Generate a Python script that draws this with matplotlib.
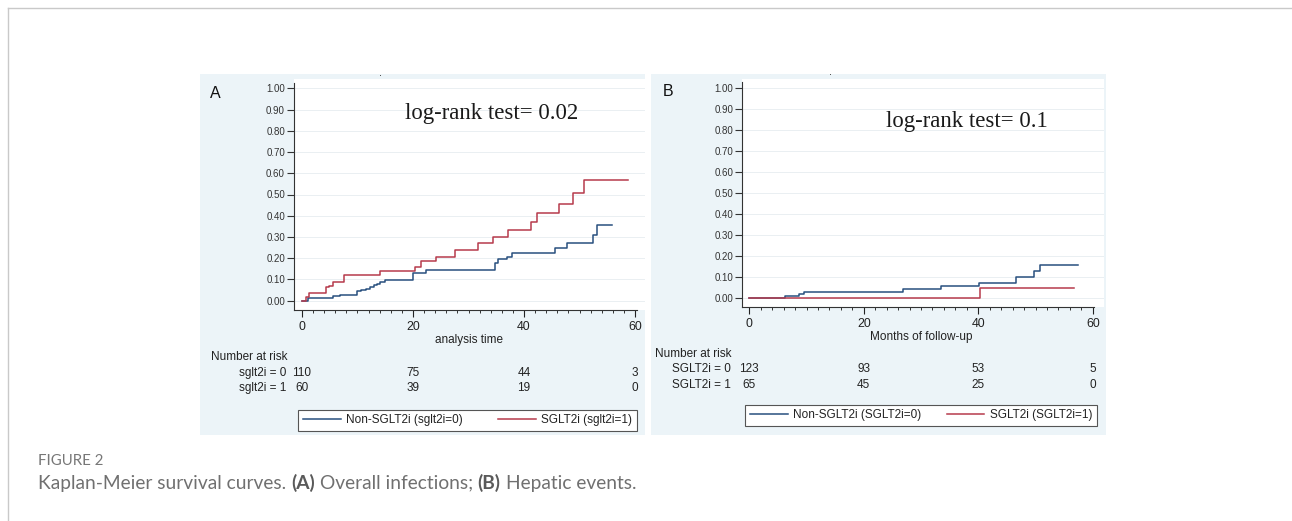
import numpy as np
import matplotlib
matplotlib.use("Agg")
import matplotlib.pyplot as plt
from matplotlib import font_manager
from matplotlib.patches import Rectangle
from matplotlib.lines import Line2D
from matplotlib.transforms import blended_transform_factory

# ---- data ----
# Panel A: overall infections (cumulative incidence, step curves)
a_non_t = [0, 1.0, 5.5, 6.8, 10.0, 10.6, 11.6, 12.2, 12.9, 13.5, 14.0, 14.9,
           20.0, 22.4, 34.7, 35.4, 36.9, 37.8, 45.6, 47.8, 52.5, 53.1, 55.9]
a_non_v = [0, 0.010, 0.019, 0.027, 0.043, 0.048, 0.055, 0.063, 0.071, 0.079, 0.087, 0.097,
           0.130, 0.144, 0.175, 0.194, 0.207, 0.226, 0.246, 0.273, 0.309, 0.357, 0.357]
a_sglt_t = [0, 0.8, 1.3, 4.3, 4.9, 5.5, 7.6, 14.0, 20.3, 21.5, 24.2, 27.5,
            31.7, 34.4, 37.2, 41.2, 42.3, 46.3, 48.8, 50.8, 58.8]
a_sglt_v = [0, 0.017, 0.034, 0.063, 0.070, 0.087, 0.120, 0.137, 0.160, 0.185, 0.207, 0.238,
            0.270, 0.298, 0.333, 0.372, 0.411, 0.455, 0.509, 0.568, 0.568]

# Panel B: hepatic events
b_non_t = [0, 6.3, 8.6, 9.6, 26.9, 33.5, 40.2, 46.6, 49.7, 50.8, 57.5]
b_non_v = [0, 0.008, 0.016, 0.027, 0.040, 0.056, 0.072, 0.097, 0.128, 0.157, 0.157]
b_sglt_t = [0, 40.3, 56.8]
b_sglt_v = [0, 0.045, 0.045]

risk_times = [0, 20, 40, 60]
a_risk_non = [110, 75, 44, 3]
a_risk_sglt = [60, 39, 19, 0]
b_risk_non = [123, 93, 53, 5]
b_risk_sglt = [65, 45, 25, 0]

y_ticks = np.round(np.arange(0, 1.01, 0.1), 2)
x_ticks = [0, 20, 40, 60]
x_minor = np.arange(0, 61, 2)

BLUE = "#28507f"
RED = "#b63a4c"
PANEL_BG = "#ecf4f8"

names = {f.name for f in font_manager.fontManager.ttflist}
if "Liberation Sans Narrow" in names:
    NARROW, k = "Liberation Sans Narrow", 1.0
else:
    NARROW, k = "Liberation Sans", 0.85

W, H = 1292, 521
fig = plt.figure(figsize=(W / 100, H / 100), dpi=100)
fig.patch.set_facecolor("white")


def fx(px):
    return px / W


def fy(py):
    return 1 - py / H


# page frame lines
fig.add_artist(Line2D([fx(8), 1], [fy(8), fy(8)], color="#c9c9c9", lw=1))
fig.add_artist(Line2D([fx(8), fx(8)], [fy(8), 0], color="#c9c9c9", lw=1))


def draw_panel(box, plot, xlim, ylim, curves, letter, letter_xy, test_txt, test_xy,
               xlabel, xlabel_y, risk_rows, risk_xy, legend_box, leg_labels):
    # grey-blue graph region
    x0, y0, x1, y1 = box
    fig.add_artist(Rectangle((fx(x0), fy(y1)), fx(x1) - fx(x0), (y1 - y0) / H,
                             transform=fig.transFigure, facecolor=PANEL_BG,
                             edgecolor="none", zorder=0))
    l, t, r, b = plot
    ax = fig.add_axes([fx(l), fy(b), fx(r) - fx(l), (b - t) / H])
    ax.set_facecolor("white")
    ax.set_xlim(*xlim)
    ax.set_ylim(*ylim)

    lines = []
    for (tt, vv, col) in curves:
        ln, = ax.step(tt, vv, where="post", color=col, lw=1.1, zorder=3)
        lines.append(ln)

    ax.set_yticks(y_ticks)
    ax.set_yticklabels([f"{v:.2f}" for v in y_ticks])
    ax.set_xticks(x_ticks)
    ax.set_xticks(x_minor, minor=True)
    ax.grid(axis="y", color="#eaeff2", lw=0.7)
    ax.set_axisbelow(True)
    for s in ("top", "right"):
        ax.spines[s].set_visible(False)
    for s in ("left", "bottom"):
        ax.spines[s].set_color("#333333")
        ax.spines[s].set_linewidth(0.8)
    ax.spines["left"].set_bounds(ylim[0], 1.025)
    ax.spines["bottom"].set_bounds(xlim[0], 60.3)
    ax.tick_params(axis="y", length=5, width=0.8, pad=1.5, labelsize=7,
                   colors="#333333", labelfontfamily="Liberation Sans")
    ax.tick_params(axis="x", which="major", length=5, width=0.8, pad=3,
                   labelsize=10.5 * k, colors="#222222", labelfontfamily=NARROW)
    ax.tick_params(axis="x", which="minor", length=2.5, width=0.7, colors="#333333")

    fig.text(fx(letter_xy[0]), fy(letter_xy[1]), letter, fontsize=11.5,
             family="Liberation Sans", ha="center", va="center", color="#111111")
    fig.text(fx(test_xy[0]), fy(test_xy[1]), test_txt, fontsize=16.4,
             family="Liberation Serif", ha="center", va="center", color="#1a1a1a")

    trans = blended_transform_factory(ax.transData, fig.transFigure)
    ax.text(30, fy(xlabel_y), xlabel, transform=trans, ha="center", va="center",
            fontsize=10 * k, family=NARROW, color="#222222")

    rx, ry = risk_xy
    fig.text(fx(rx), fy(ry), "Number at risk", ha="left", va="center",
             fontsize=10 * k, family=NARROW, color="#222222")
    for (lbl_x, lbl_y, lbl, vals) in risk_rows:
        fig.text(fx(lbl_x), fy(lbl_y), lbl, ha="right", va="center",
                 fontsize=10 * k, family=NARROW, color="#222222")
        for tm, n in zip(risk_times, vals):
            ax.text(tm, fy(lbl_y), str(n), transform=trans, ha="center", va="center",
                    fontsize=10 * k, family=NARROW, color="#222222")

    lx0, ly0, lx1, ly1 = legend_box
    leg = fig.legend(handles=lines, labels=leg_labels, loc="lower left",
                     bbox_to_anchor=(fx(lx0), fy(ly1), fx(lx1) - fx(lx0), (ly1 - ly0) / H),
                     bbox_transform=fig.transFigure, mode="expand", ncol=2,
                     frameon=True, fancybox=False, edgecolor="#555555",
                     facecolor="white", framealpha=1, borderaxespad=0,
                     handlelength=3.2, handletextpad=0.45, borderpad=0.4,
                     prop={"family": NARROW, "size": 10 * k})
    leg.get_frame().set_linewidth(0.8)
    for txt in leg.get_texts():
        txt.set_color("#222222")
    return ax


draw_panel(box=(200, 74, 645, 435), plot=(294, 79, 645, 310),
           xlim=(-1.44, 61.8), ylim=(-0.0448, 1.0448),
           curves=[(a_non_t, a_non_v, BLUE), (a_sglt_t, a_sglt_v, RED)],
           letter="A", letter_xy=(215, 94),
           test_txt="log-rank test= 0.02", test_xy=(492, 113),
           xlabel="analysis time", xlabel_y=340,
           risk_rows=[(286, 373, "sglt2i = 0", a_risk_non),
                      (286, 388, "sglt2i = 1", a_risk_sglt)],
           risk_xy=(211, 357),
           legend_box=(298, 404, 637, 431),
           leg_labels=["Non-SGLT2i (sglt2i=0)", "SGLT2i (sglt2i=1)"])

draw_panel(box=(651, 74, 1106, 435), plot=(742.3, 79, 1104, 306.7),
           xlim=(-1.22, 61.96), ylim=(-0.0429, 1.0414),
           curves=[(b_non_t, b_non_v, BLUE), (b_sglt_t, b_sglt_v, RED)],
           letter="B", letter_xy=(668, 92),
           test_txt="log-rank test= 0.1", test_xy=(967, 121),
           xlabel="Months of follow-up", xlabel_y=337,
           risk_rows=[(731, 369, "SGLT2i = 0", b_risk_non),
                      (731, 385, "SGLT2i = 1", b_risk_sglt)],
           risk_xy=(655, 354),
           legend_box=(745, 400, 1097, 426),
           leg_labels=["Non-SGLT2i (SGLT2i=0)", "SGLT2i (SGLT2i=1)"])

# tiny leftover marks at the top of each panel
for px, py in [(380, 76), (831, 75)]:
    fig.text(fx(px), fy(py), "\u00b7", fontsize=7, ha="center", va="center", color="#333333")

# caption
fig.text(fx(38), fy(461), "FIGURE 2", fontsize=10.8, family="Lato", color="#777777",
         ha="left", va="center")
renderer = fig.canvas.get_renderer()
pieces = [("Kaplan-Meier survival curves.", "normal"), ("(A)", "bold"),
          ("Overall infections;", "normal"), ("(B)", "bold"), ("Hepatic events.", "normal")]
cap_size = 13.8
probe1 = fig.text(0, 0, "a a", fontsize=cap_size, family="Lato")
probe2 = fig.text(0, 0, "aa", fontsize=cap_size, family="Lato")
space_w = (probe1.get_window_extent(renderer).width
           - probe2.get_window_extent(renderer).width)
probe1.remove()
probe2.remove()
x = 38
for txt, wt in pieces:
    t = fig.text(fx(x), fy(483), txt, fontsize=cap_size, family="Lato", weight=wt,
                 color="#5a5a5a" if wt == "bold" else "#707070", ha="left", va="center")
    x += t.get_window_extent(renderer).width + space_w

fig.savefig("out.png", dpi=100)
